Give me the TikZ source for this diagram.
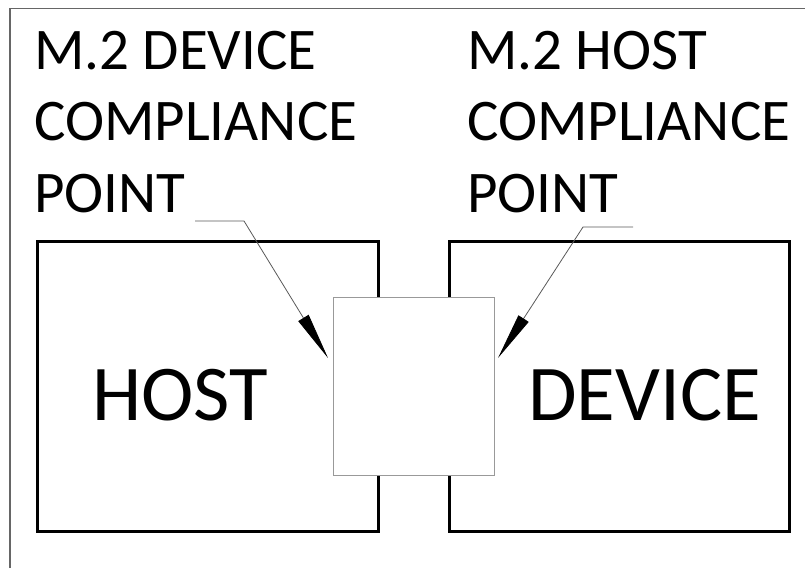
\documentclass[tikz,border=0pt]{standalone}
\usepackage{fontspec}
\setmainfont{Carlito}
\usetikzlibrary{arrows.meta}

\tikzset{
  frameline/.style={draw=black!60, line width=1.2pt},
  unitbox/.style={draw=black, line width=3pt, line join=miter},
  connbox/.style={draw=gray!80, fill=white, line width=1pt},
  caption/.style={anchor=north west, inner sep=0pt, align=left,
    font=\fontsize{59}{71.5}\selectfont},
  bigtext/.style={anchor=base, inner sep=0pt, font=\fontsize{79}{90}\selectfont},
  leader/.style={draw=gray!70!black, line width=0.8pt,
    -{Triangle[length=47pt,width=12pt,color=black]}},
}

\begin{document}
\begin{tikzpicture}[x=1pt,y=-1pt]
  \useasboundingbox (0,0) rectangle (805,568);

  % drawing frame (top and left edges)
  \draw[frameline] (10,568) -- (10,8.5) -- (805,8.5);

  % host and device boards
  \draw[unitbox] (37,241) rectangle (378,531);
  \draw[unitbox] (449,241) rectangle (789,531);

  % M.2 connector between them
  \node[connbox, minimum width=161pt, minimum height=178pt, inner sep=0pt]
    (conn) at (413.5,386) {};

  % board names
  \node[bigtext] (hostlbl) at (180,420) {HOST};
  \node[bigtext] (devlbl) at (644.5,420) {DEVICE};

  % compliance point captions
  \node[caption] (devpt) at (34,31) {M.2 DEVICE\\COMPLIANCE\\POINT};
  \node[caption] (hostpt) at (467,31) {M.2 HOST\\COMPLIANCE\\POINT};

  % leader lines to the connector edges
  \coordinate (devstart) at (195,221);
  \coordinate (devknee) at (244,221);
  \coordinate (devtip) at (328,358);
  \coordinate (hoststart) at (633,227);
  \coordinate (hostknee) at (583,227);
  \coordinate (hosttip) at (498,358);

  \draw[leader] (devstart) -- (devknee) -- (devtip);
  \draw[leader] (hoststart) -- (hostknee) -- (hosttip);
\end{tikzpicture}
\end{document}
